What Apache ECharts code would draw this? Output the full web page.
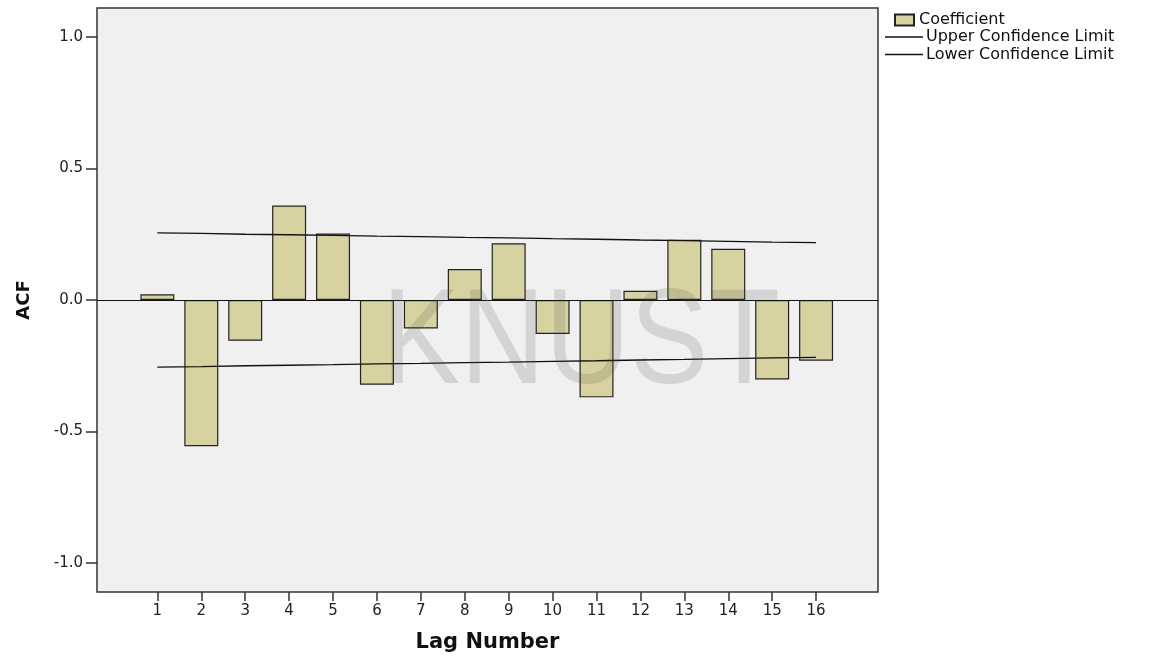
<!DOCTYPE html>
<html>
<head>
<meta charset="utf-8">
<script src="https://cdn.jsdelivr.net/npm/echarts@6/dist/echarts.min.js"></script>
<style>
  html, body { margin: 0; padding: 0; background: #fff; }
  #main { width: 1162px; height: 658px; }
</style>
</head>
<body>
<div id="main"></div>
<script>
// lag numbers and ACF values
const lags = [1, 2, 3, 4, 5, 6, 7, 8, 9, 10, 11, 12, 13, 14, 15, 16];
const acf = [0.022, -0.556, -0.155, 0.359, 0.253, -0.322, -0.108, 0.118,
             0.216, -0.129, -0.370, 0.035, 0.229, 0.195, -0.302, -0.231];
const upperLimit = [0.255, 0.253, 0.250, 0.248, 0.246, 0.243, 0.241, 0.238,
                    0.236, 0.233, 0.231, 0.228, 0.226, 0.223, 0.220, 0.218];
const lowerLimit = [-0.255, -0.253, -0.250, -0.248, -0.246, -0.243, -0.241, -0.238,
                    -0.236, -0.233, -0.231, -0.228, -0.226, -0.223, -0.220, -0.218];
const yTicks = [-1.0, -0.5, 0.0, 0.5, 1.0];

const font = "DejaVu Sans";
const chart = echarts.init(document.getElementById("main"));

const option = {
  backgroundColor: "#fff",
  animation: false,
  grid: {
    left: 97,
    right: 284,
    top: 8,
    bottom: 66,
    show: true,
    backgroundColor: "#f0f0f0",
    borderColor: "#333",
    borderWidth: 1.5
  },
  legend: [
    {
      data: ["Coefficient"],
      left: 894,
      top: 12,
      padding: 0,
      itemWidth: 19,
      itemHeight: 11,
      icon: "rect",
      textStyle: { fontFamily: font, fontSize: 16, color: "#111" }
    },
    {
      data: [
        { name: "Upper Confidence Limit", icon: "rect" },
        { name: "Lower Confidence Limit", icon: "rect" }
      ],
      orient: "vertical",
      left: 885,
      top: 29,
      padding: 0,
      itemWidth: 38,
      itemHeight: 1.5,
      itemGap: 1.5,
      textStyle: { fontFamily: font, fontSize: 16, color: "#111", padding: [0, 0, 0, -2] }
    }
  ],
  xAxis: {
    type: "value",
    min: -0.375,
    max: 17.41,
    name: "Lag Number",
    nameLocation: "middle",
    nameGap: 40,
    nameTextStyle: { fontFamily: font, fontSize: 21, fontWeight: "bold", color: "#111" },
    axisLine: { show: false, onZero: false },
    splitLine: { show: false },
    axisTick: {
      show: true,
      customValues: lags,
      length: 9,
      lineStyle: { color: "#333", width: 1.5 }
    },
    axisLabel: {
      customValues: lags,
      margin: 12,
      fontFamily: font,
      fontSize: 15,
      color: "#222"
    }
  },
  yAxis: {
    type: "value",
    min: -1.11,
    max: 1.11,
    name: "ACF",
    nameLocation: "middle",
    nameRotate: 90,
    nameGap: 64,
    nameTextStyle: { fontFamily: font, fontSize: 18, fontWeight: "bold", color: "#111" },
    axisLine: { show: false, onZero: false },
    splitLine: { show: false },
    axisTick: {
      show: true,
      customValues: yTicks,
      length: 11,
      lineStyle: { color: "#333", width: 1.5 }
    },
    axisLabel: {
      customValues: yTicks,
      margin: 14,
      fontFamily: font,
      fontSize: 15,
      color: "#222",
      formatter: (v) => v.toFixed(1)
    }
  },
  series: [
    {
      name: "Coefficient",
      type: "bar",
      barWidth: 34,
      data: lags.map((l, i) => [l, acf[i]]),
      itemStyle: { color: "#d7d3a0", borderColor: "#222", borderWidth: 1.2 },
      markLine: {
        silent: true,
        symbol: "none",
        label: { show: false },
        lineStyle: { color: "#111", width: 1, type: "solid" },
        data: [{ yAxis: 0 }]
      }
    },
    {
      name: "Upper Confidence Limit",
      type: "line",
      symbol: "none",
      data: lags.map((l, i) => [l, upperLimit[i]]),
      lineStyle: { color: "#111", width: 1.3 },
      itemStyle: { color: "#111" },
      z: 5
    },
    {
      name: "Lower Confidence Limit",
      type: "line",
      symbol: "none",
      data: lags.map((l, i) => [l, lowerLimit[i]]),
      lineStyle: { color: "#111", width: 1.3 },
      itemStyle: { color: "#111" },
      z: 5
    }
  ],
  graphic: [
    {
      type: "text",
      x: 581,
      y: 346,
      scaleX: 0.87,
      originX: 0,
      originY: 0,
      z: 100,
      silent: true,
      style: {
        text: "KNUST",
        font: "135px 'Liberation Sans'",
        fill: "rgba(80,80,80,0.17)",
        textAlign: "center",
        textVerticalAlign: "middle"
      }
    }
  ]
};

chart.setOption(option);
</script>
</body>
</html>
